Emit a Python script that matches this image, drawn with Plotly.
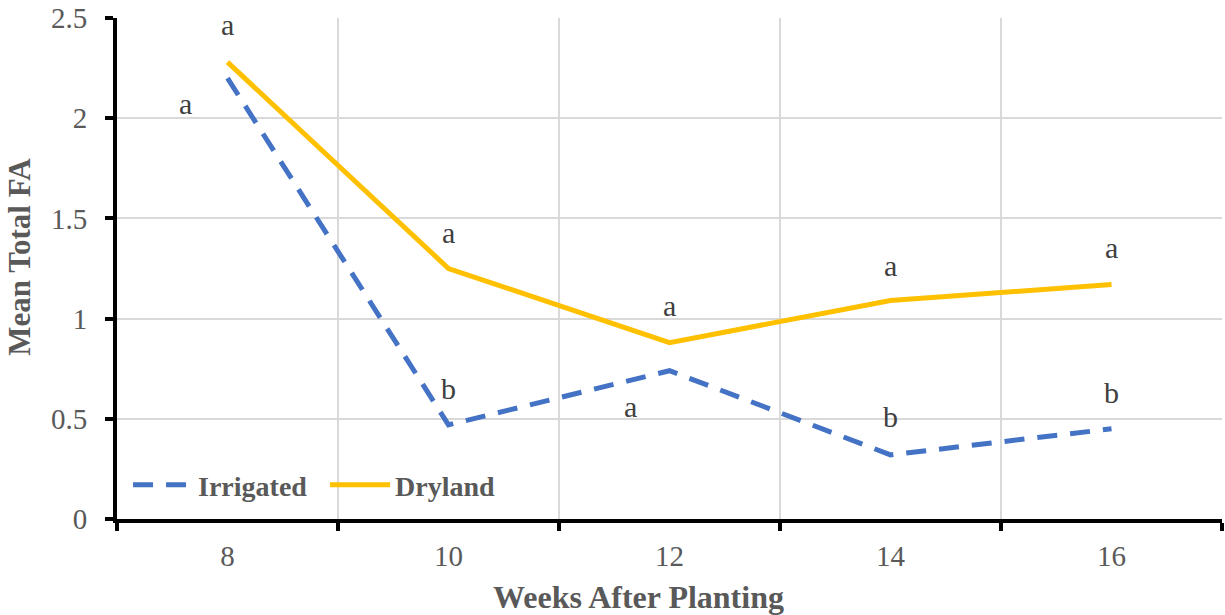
import plotly.graph_objects as go

weeks = [8, 10, 12, 14, 16]
irrigated = [2.20, 0.47, 0.74, 0.32, 0.45]
dryland = [2.28, 1.25, 0.88, 1.09, 1.17]

irr_letters = ["a", "b", "a", "b", "b"]
irr_letter_x = [7.62, 10, 11.65, 14, 16]
irr_letter_y = [2.075, 0.65, 0.56, 0.51, 0.63]
dry_letters = ["a", "a", "a", "a", "a"]
dry_letter_x = [8, 10, 12, 14, 16]
dry_letter_y = [2.47, 1.43, 1.065, 1.265, 1.355]

y_ticks = [0, 0.5, 1, 1.5, 2, 2.5]
y_ticktext = ["0", "0.5", "1", "1.5", "2", "2.5"]

BLUE = "#4472C4"
GOLD = "#FFC000"
GRID = "#D9D9D9"
TXT = "#595959"
FONT = "Liberation Serif"

fig = go.Figure()
fig.add_trace(go.Scatter(x=weeks, y=irrigated, name="Irrigated", mode="lines",
                         line=dict(color=BLUE, width=5, dash="20px,13px")))
fig.add_trace(go.Scatter(x=weeks, y=dryland, name="Dryland", mode="lines",
                         line=dict(color=GOLD, width=5)))

for t, x, y in zip(irr_letters, irr_letter_x, irr_letter_y):
    fig.add_annotation(x=x, y=y, text=t, showarrow=False, xanchor="center", yanchor="middle",
                       font=dict(family=FONT, size=30, color="#404040"))
for t, x, y in zip(dry_letters, dry_letter_x, dry_letter_y):
    fig.add_annotation(x=x, y=y, text=t, showarrow=False, xanchor="center", yanchor="middle",
                       font=dict(family=FONT, size=30, color="#404040"))

# axis titles (offset like the reference)
fig.add_annotation(xref="paper", yref="paper", x=0.472, y=-0.156, text="<b>Weeks After Planting</b>",
                   showarrow=False, xanchor="center", yanchor="middle",
                   font=dict(family=FONT, size=32, color=TXT))
fig.add_annotation(xref="paper", yref="paper", x=-0.088, y=0.523, text="<b>Mean Total FA</b>",
                   showarrow=False, xanchor="center", yanchor="middle", textangle=-90,
                   font=dict(family=FONT, size=31, color=TXT))

fig.update_layout(
    width=1225, height=615,
    margin=dict(l=117, r=3, t=18, b=96),
    paper_bgcolor="white", plot_bgcolor="white",
    font=dict(family=FONT, color=TXT),
    showlegend=True,
    legend=dict(orientation="h", x=0.01, y=0.068, xanchor="left", yanchor="middle",
                font=dict(family=FONT, size=28, color=TXT, weight="bold"),
                bgcolor="rgba(0,0,0,0)", itemwidth=60,
                entrywidth=122, entrywidthmode="pixels"),
    xaxis=dict(range=[7, 17], tickvals=weeks, ticktext=[str(w) for w in weeks],
               ticks="", showgrid=False, zeroline=False,
               showline=True, linecolor="black", linewidth=4,
               tickfont=dict(family=FONT, size=29, color=TXT),
               ticklabelstandoff=8,
               minor=dict(tick0=7, dtick=2, ticks="outside", ticklen=8, tickwidth=4,
                          tickcolor="black", showgrid=True, gridcolor=GRID, gridwidth=2)),
    yaxis=dict(range=[0, 2.5], tickvals=y_ticks, ticktext=y_ticktext,
               ticks="outside", ticklen=8, tickwidth=4, tickcolor="black",
               showgrid=True, gridcolor=GRID, gridwidth=2, zeroline=False,
               showline=True, linecolor="black", linewidth=4,
               tickfont=dict(family=FONT, size=29, color=TXT),
               ticklabelstandoff=12),
)

fig.write_html("out.html", config={"displayModeBar": False},
               post_script="document.body.style.margin='0';")
